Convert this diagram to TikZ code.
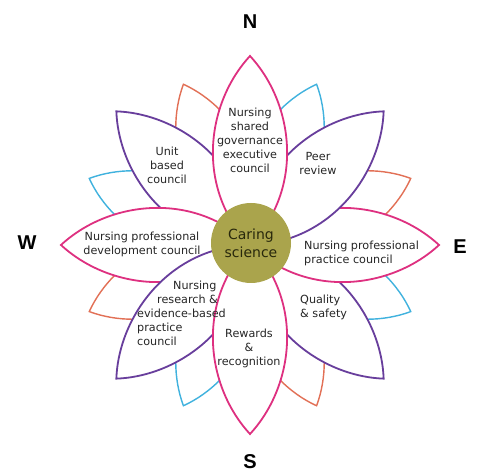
\documentclass[tikz,border=0pt]{standalone}
\usepackage{fontspec}
\setmainfont{DejaVu Sans}
\newfontfamily\compassfont{Liberation Sans}
\definecolor{pinkc}{RGB}{222,48,128}
\definecolor{purplec}{RGB}{104,62,156}
\definecolor{orangec}{RGB}{226,112,86}
\definecolor{bluec}{RGB}{64,178,222}
\definecolor{olivec}{RGB}{170,164,76}
\definecolor{textc}{RGB}{38,38,38}
\definecolor{caringc}{RGB}{40,40,12}
\newcommand\drawpetal[4]{%
  \begin{scope}[shift={(250,229)},rotate=#2]
    \draw[#1] (0,0) .. controls ({0.3*#3},{#4*#3}) and ({0.75*#3},{0.8*#4*#3}) .. (#3,0)
      .. controls ({0.75*#3},{-0.8*#4*#3}) and ({0.3*#3},{-#4*#3}) .. cycle;
  \end{scope}}
\tikzset{
  smallo/.style={draw=orangec,line width=1.4pt,fill=white},
  smallb/.style={draw=bluec,line width=1.4pt,fill=white},
  pinkpetal/.style={draw=pinkc,line width=1.8pt,fill=white},
  purplepetal/.style={draw=purplec,line width=1.8pt,fill=white},
  ptext/.style={text=textc,font=\fontsize{11.2}{14}\selectfont,align=center,inner sep=0pt},
  compass/.style={font=\compassfont\bfseries\fontsize{20}{20}\selectfont,text=black,inner sep=0pt}
}
\begin{document}
\begin{tikzpicture}[x=1pt,y=1pt]
\useasboundingbox[fill=white] (0,0) rectangle (483,474);
% small background petals
\drawpetal{smallb}{67.5}{174}{0.29}
\drawpetal{smallo}{22.5}{174}{0.29}
\drawpetal{smallb}{-22.5}{174}{0.29}
\drawpetal{smallo}{-67.5}{174}{0.29}
\drawpetal{smallb}{-112.5}{174}{0.29}
\drawpetal{smallo}{-157.5}{174}{0.29}
\drawpetal{smallb}{157.5}{174}{0.29}
\drawpetal{smallo}{112.5}{174}{0.29}
% main petals
\drawpetal{purplepetal}{-45}{189}{0.29}
\drawpetal{purplepetal}{135}{189}{0.29}
\drawpetal{pinkpetal}{0}{189}{0.29}
\drawpetal{pinkpetal}{180}{189}{0.29}
\drawpetal{purplepetal}{45}{189}{0.29}
\drawpetal{purplepetal}{225}{189}{0.29}
\drawpetal{pinkpetal}{90}{189}{0.29}
\drawpetal{pinkpetal}{270}{189}{0.29}
% centre
\node[circle,fill=olivec,minimum size=80pt,inner sep=0pt,
  font=\fontsize{14}{18}\selectfont,text=caringc,align=center] (core) at (251,231) {Caring\\science};
% petal texts
\node[ptext] (tN) at (250,334) {Nursing\\shared\\governance\\executive\\council};
\node[ptext] (tNW) at (167,309) {Unit\\based\\council};
\node[ptext] (tNE) at (318,310) {Peer\\review};
\node[ptext] (tW) at (142,229.5) {Nursing professional\\development council};
\node[ptext,align=left,anchor=west] (tE) at (304,220.5) {Nursing professional\\practice council};
\node[ptext,align=left,anchor=west] (tSE) at (300,166.5) {Quality\\\& safety};
\node[ptext] (tS) at (249,126) {Rewards\\\&\\recognition};
\node[ptext,align=left,anchor=west] (tSW) at (137,161) {\hspace*{36pt}Nursing\\\hspace*{20pt}research \&\\evidence-based\\practice\\council};
% compass
\node[compass] (cN) at (250,452) {N};
\node[compass] (cE) at (460,227) {E};
\node[compass] (cW) at (27,231) {W};
\node[compass] (cS) at (250,12) {S};
\end{tikzpicture}
\end{document}
